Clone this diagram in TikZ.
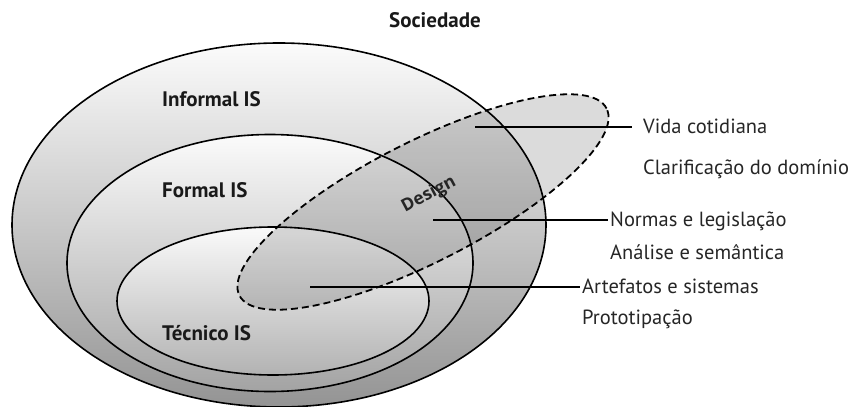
\documentclass[tikz,border=0pt]{standalone}
\usepackage{fontspec}
\setmainfont{PT Sans}
\newfontfamily\designfont{Open Sans}
\usetikzlibrary{shapes.geometric}
\begin{document}
\begin{tikzpicture}[x=1pt,y=1pt,
  ring/.style={ellipse, draw=black, line width=1.6pt, inner sep=0pt, outer sep=0pt},
  lbl/.style={font=\fontsize{21}{24}\selectfont\bfseries, text=black!90, anchor=west, inner sep=0pt},
  side/.style={font=\fontsize{20.5}{24}\selectfont, text=black!85, anchor=west, inner sep=2pt, text height=14pt, text depth=2pt},
  leader/.style={line width=1.6pt}
]
\useasboundingbox[fill=white] (0,0) rectangle (860,-407);
\node[ring, minimum width=534pt, minimum height=364pt, top color=gray!3, middle color=gray!22, bottom color=black!42] (outer) at (279,-225) {};
\node[ring, minimum width=406pt, minimum height=257pt, top color=gray!3, middle color=gray!20, bottom color=black!36] (formal) at (270,-263) {};
\node[ring, minimum width=312pt, minimum height=148pt, top color=gray!4, middle color=gray!18, bottom color=black!30] (tec) at (273,-301) {};
\node[ellipse, minimum width=412pt, minimum height=120pt, rotate=27, inner sep=0pt, fill=black, fill opacity=0.14, draw=black, draw opacity=1, dash pattern=on 7pt off 4pt, line width=1.8pt] (design) at (423,-202) {};
\node[rotate=28, inner sep=0pt, font=\designfont\bfseries\fontsize{17.5}{20}\selectfont, text=black!85] (dlab) at (429,-195) {Design};

\node[font=\fontsize{21}{24}\selectfont\bfseries, text=black!90] (soc) at (435,-20) {Sociedade};
\node[lbl] (inf) at (162,-99) {Informal IS};
\node[lbl] (for) at (162,-190) {Formal IS};
\node[lbl] (tecl) at (162,-333) {Técnico IS};

\node[side] (vida) at (641,-127) {Vida cotidiana};
\node[side] (clar) at (641,-168) {Clarificação do domínio};
\node[side] (norm) at (608,-220) {Normas e legislação};
\node[side] (anal) at (608,-253) {Análise e semântica};
\node[side] (art) at (580,-287) {Artefatos e sistemas};
\node[side] (prot) at (580,-318) {Prototipação};

\coordinate (d1) at (475,-127);
\coordinate (d2) at (433,-220);
\coordinate (d3) at (310,-287);
\draw[leader] (d1) -- ([xshift=-9pt]vida.west);
\draw[leader] (d2) -- (norm.west);
\draw[leader] (d3) -- (art.west);
\end{tikzpicture}
\end{document}
